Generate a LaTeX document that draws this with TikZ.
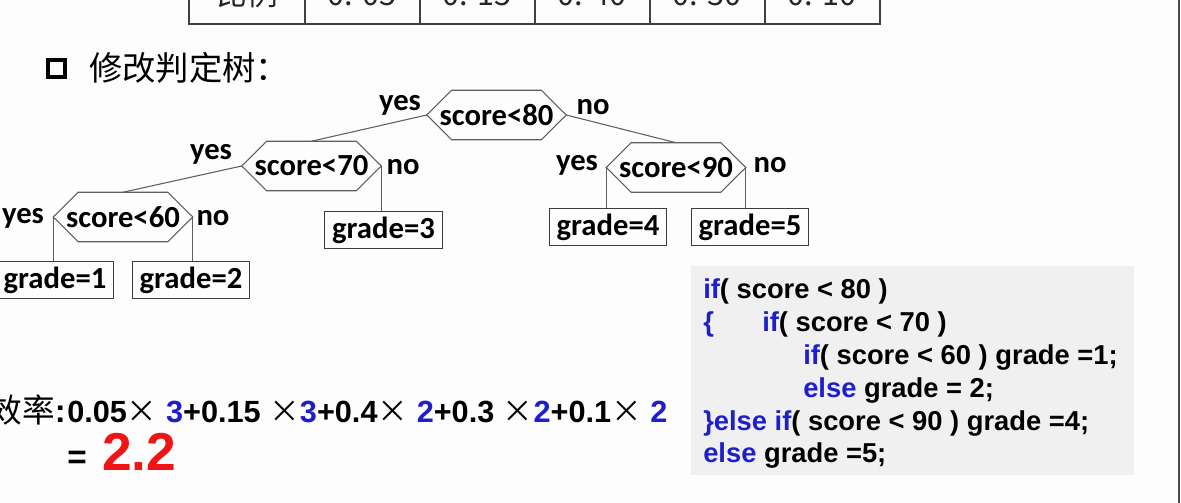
\documentclass[tikz,border=0pt]{standalone}
\usepackage{fontspec}
\setmainfont{Liberation Sans}
\newfontfamily\treefont{Carlito}
\newfontfamily\cjkfont{Noto Sans CJK SC}
\definecolor{kwblue}{RGB}{30,30,205}
\definecolor{numred}{RGB}{240,20,20}
\definecolor{codebg}{RGB}{240,240,240}
\definecolor{treeline}{RGB}{95,95,95}
\definecolor{boxline}{RGB}{60,60,60}
\definecolor{pagebg}{RGB}{253,253,253}
\newcommand\kw[1]{\textcolor{kwblue}{#1}}
\newcommand\bn[1]{\textcolor{kwblue}{#1}}
\newcommand\tms{{\mdseries\cjkfont ×}}
\newcommand\hexdraw[1]{\draw[hexline] ([shift={(25,0)}]#1.north west) -- ([shift={(-25,0)}]#1.north east) -- (#1.east) -- ([shift={(-25,0)}]#1.south east) -- ([shift={(25,0)}]#1.south west) -- (#1.west) -- cycle;}
\tikzset{
  hexline/.style={draw=treeline, line width=0.8pt},
  hexa/.style={minimum width=104.25pt, minimum height=36.75pt, inner sep=0pt,
    font=\treefont\bfseries\fontsize{23}{27}\selectfont},
  gbox/.style={draw=boxline, line width=0.8pt, minimum width=88pt, minimum height=28pt, inner sep=0pt,
    font=\treefont\bfseries\fontsize{23}{27}\selectfont},
  lab/.style={inner sep=0pt, font=\treefont\bfseries\fontsize{23}{27}\selectfont},
  tabtxt/.style={inner sep=0pt, anchor=base, font=\cjkfont\fontsize{23}{27}\selectfont, text=black!85},
  codeline/.style={inner sep=0pt, anchor=base west, font=\bfseries\fontsize{20.5}{24}\selectfont},
  formtxt/.style={inner sep=0pt, anchor=base west, font=\bfseries\fontsize{23}{27}\selectfont},
}
\begin{document}
\begin{tikzpicture}[x=0.75pt,y=-0.75pt]
\useasboundingbox (0,0) rectangle (1181,503);
\clip (0,0) rectangle (1181,503);
\fill[pagebg] (0,0) rectangle (1181,503);
% cropped table row
\draw[line width=1pt, black!75] (189,-5) -- (189,24) -- (880,24) -- (880,-5);
\foreach \xx in {305,420,535,650,765} \draw[line width=1pt, black!75] (\xx,-5) -- (\xx,24);
\node[tabtxt] (t0) at (247,6) {比例};
\node[tabtxt] (t1) at (362,6) {0. 05};
\node[tabtxt] (t2) at (477,6) {0. 15};
\node[tabtxt] (t3) at (592,6) {0. 40};
\node[tabtxt] (t4) at (707,6) {0. 30};
\node[tabtxt] (t5) at (822,6) {0. 10};
% heading
\draw[line width=2.8pt] (48,60) rectangle (65,77);
\node[inner sep=0pt, anchor=west, font=\cjkfont\fontsize{25}{29}\selectfont] (head) at (89,68) {修改判定树：};
% tree
\node[hexa] (n80) at (496.5,115) {score<80};
\node[hexa] (n70) at (311.5,166) {score<70};
\node[hexa] (n60) at (123,217) {score<60};
\node[hexa] (n90) at (676,167.5) {score<90};
\hexdraw{n80}\hexdraw{n70}\hexdraw{n60}\hexdraw{n90}
\node[gbox] (g1) at (55,280) {grade=1};
\node[gbox] (g2) at (191,280) {grade=2};
\node[gbox] (g3) at (383.5,230) {grade=3};
\node[gbox] (g4) at (608,227) {grade=4};
\node[gbox] (g5) at (750,227) {grade=5};
\draw[hexline] (n80.west) -- (n70.north);
\draw[hexline] (n80.east) -- (n90.north);
\draw[hexline] (n70.west) -- (n60.north);
\draw[hexline] (n70.east) -- (n70.east |- g3.north);
\draw[hexline] (n60.west) -- (n60.west |- g1.north);
\draw[hexline] (n60.east) -- (n60.east |- g2.north);
\draw[hexline] (n90.west) -- (n90.west |- g4.north);
\draw[hexline] (n90.east) -- (n90.east |- g5.north);
\node[lab] (y80) at (400,105) {yes};
\node[lab] (o80) at (593,107) {no};
\node[lab] (y70) at (211,154) {yes};
\node[lab] (o70) at (403,167) {no};
\node[lab] (y60) at (23,218) {yes};
\node[lab] (o60) at (213,218) {no};
\node[lab] (y90) at (577,165) {yes};
\node[lab] (o90) at (770,165) {no};
% efficiency
\node[inner sep=0pt, anchor=base east, font=\fontsize{24.5}{28}\selectfont] (eff) at (66,422) {{\cjkfont 效率}\textbf{:}};
\node[formtxt] (form) at (67,422) {0.05\tms{} \bn{3}+0.15 \tms\bn{3}+0.4\tms{} \bn{2}+0.3 \tms\bn{2}+0.1\tms{} \bn{2}};
\node[inner sep=0pt, anchor=base west, font=\bfseries\fontsize{25}{30}\selectfont] (eq) at (67,468) {=};
\node[inner sep=0pt, anchor=base west, font=\bfseries\fontsize{40}{46}\selectfont, text=numred] (res) at (102,470) {2.2};
% code
\fill[codebg] (691,266) rectangle (1134,475);
\node[codeline] (c1) at (703,298) {\kw{if}( score < 80 )};
\node[codeline] (c2a) at (703,331) {\kw{\{}};
\node[codeline] (c2) at (762,331) {\kw{if}( score < 70 )};
\node[codeline] (c3) at (803,364) {\kw{if}( score < 60 ) grade =1;};
\node[codeline] (c4) at (803,397) {\kw{else} grade = 2;};
\node[codeline] (c5) at (703,430) {\kw{\}else if}( score < 90 ) grade =4;};
\node[codeline] (c6) at (703,462) {\kw{else} grade =5;};
% right edge
\draw[line width=1.5pt, black!70] (1179,0) -- (1179,503);
\end{tikzpicture}
\end{document}
